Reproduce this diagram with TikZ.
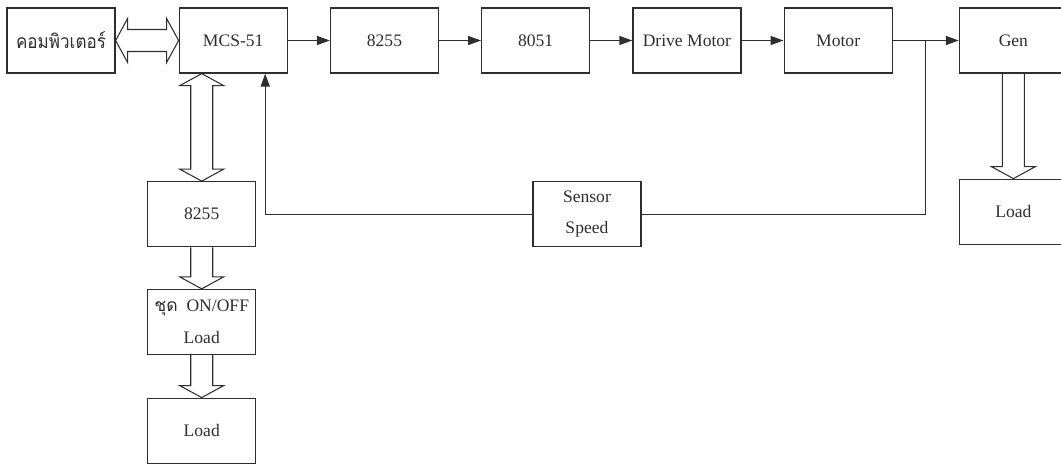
\documentclass[tikz,border=0pt]{standalone}
\usepackage{fontspec}
\setmainfont{Liberation Serif}
\newfontfamily\thaifont[Script=Thai]{Loma}
\usetikzlibrary{positioning,arrows.meta,calc}
\definecolor{ink}{HTML}{2E2E2E}
\definecolor{paper}{HTML}{FFFFFF}

% wide hollow bus arrows
\newcommand{\buswd}{0.22cm}
\newcommand{\bushd}{0.44cm}
\newcommand{\buslen}{0.24cm}
\newcommand{\busdown}[2]{%
  \draw[bus] let \p1=(#1), \p2=(#2) in
    (\x1-\buswd,\y1) -- (\x1-\buswd,\y2+\buslen) -- (\x1-\bushd,\y2+\buslen) -- (\x1,\y2)
    -- (\x1+\bushd,\y2+\buslen) -- (\x1+\buswd,\y2+\buslen) -- (\x1+\buswd,\y1);}
\newcommand{\busboth}[2]{%
  \draw[bus] let \p1=(#1), \p2=(#2) in
    (\x1,\y1) -- (\x1+\bushd,\y1-\buslen) -- (\x1+\buswd,\y1-\buslen) -- (\x1+\buswd,\y2+\buslen)
    -- (\x1+\bushd,\y2+\buslen) -- (\x1,\y2) -- (\x1-\bushd,\y2+\buslen) -- (\x1-\buswd,\y2+\buslen)
    -- (\x1-\buswd,\y1-\buslen) -- (\x1-\bushd,\y1-\buslen) -- cycle;}
\newcommand{\busside}[2]{%
  \draw[bus] let \p1=(#1), \p2=(#2) in
    (\x1,\y1) -- (\x1+\buslen,\y1+\bushd) -- (\x1+\buslen,\y1+\buswd) -- (\x2-\buslen,\y1+\buswd)
    -- (\x2-\buslen,\y1+\bushd) -- (\x2,\y1) -- (\x2-\buslen,\y1-\bushd) -- (\x2-\buslen,\y1-\buswd)
    -- (\x1+\buslen,\y1-\buswd) -- (\x1+\buslen,\y1-\bushd) -- cycle;}

\begin{document}
\begin{tikzpicture}[
      box/.style={draw=ink, line width=0.7pt, minimum width=2.16cm, minimum height=1.3cm,
                  align=center, inner sep=2pt, text=ink, font=\fontsize{10}{18}\selectfont},
      sig/.style={-{Triangle[length=2.6mm,width=1.8mm]}, color=ink, line width=0.8pt},
      wire/.style={color=ink, line width=0.8pt},
      bus/.style={draw=ink, line width=0.6pt, line join=miter},
    ]
      \useasboundingbox (0,0) rectangle (21.22,-9.32);
      % top row
      \node[box] (comp) at (1.22,-0.81) {\scalebox{0.88}[1]{\thaifont\fontsize{11}{14}\selectfont คอมพิวเตอร์}};
      \node[box, right=1.26cm of comp] (mcs) {MCS-51};
      \node[box, right=0.84cm of mcs] (ppi) {8255};
      \node[box, right=0.84cm of ppi] (mcu) {8051};
      \node[box, right=0.84cm of mcu] (drv) {Drive Motor};
      \node[box, right=0.84cm of drv] (motor) {Motor};
      \node[box, right=1.32cm of motor] (gen) {Gen};
      % left column
      \node[box, below=2.15cm of mcs, xshift=-0.63cm] (ppib) {8255};
      \node[box, below=0.83cm of ppib] (onoff) {{\thaifont ชุด}\ \ ON/OFF\\Load};
      \node[box, below=0.85cm of onoff] (loadb) {Load};
      % feedback and generator load
      \node[box, right=5.52cm of ppib] (sensor) {Sensor\\Speed};
      \node[box, below=2.1cm of gen] (loadg) {Load};
      \coordinate (tap) at ($(motor.east)!0.5!(gen.west)$);
      \coordinate (fbin) at ($(mcs.south)+(0.64,0)$);

      \draw[sig] (mcs) -- (ppi);
      \draw[sig] (ppi) -- (mcu);
      \draw[sig] (mcu) -- (drv);
      \draw[sig] (drv) -- (motor);
      \draw[sig] (motor) -- (gen);
      \draw[wire] (sensor.east) -| (tap);
      \draw[sig] (sensor.west) -| (fbin);

      \busside{comp.east}{mcs.west}
      \busboth{ppib.north |- mcs.south}{ppib.north}
      \busdown{ppib.south}{onoff.north}
      \busdown{onoff.south}{loadb.north}
      \busdown{gen.south}{loadg.north}
    \end{tikzpicture}
\end{document}
